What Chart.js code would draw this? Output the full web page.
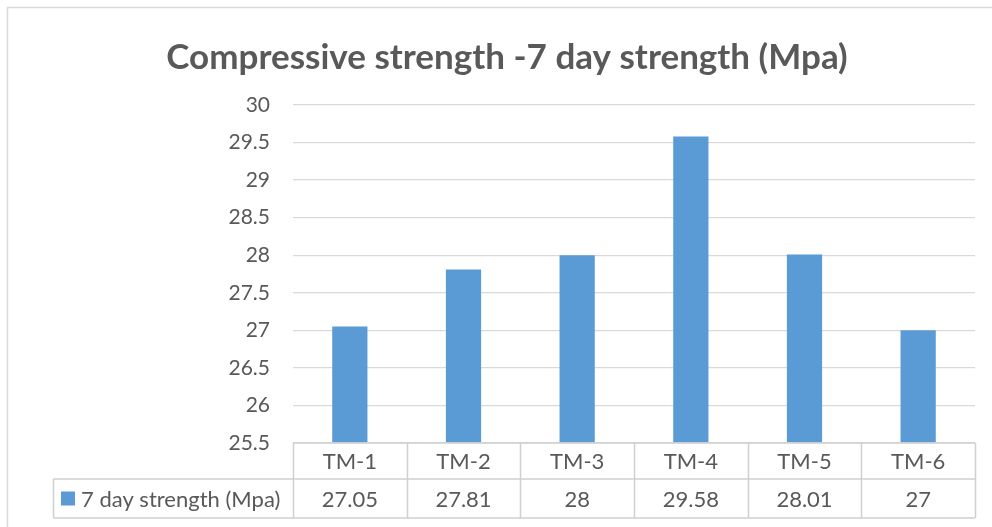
<!DOCTYPE html>
<html>
<head>
<meta charset="utf-8">
<script src="https://cdn.jsdelivr.net/npm/chart.js@4.4.1/dist/chart.umd.min.js"></script>
<style>
  html, body { margin: 0; padding: 0; background: #ffffff; }
  canvas { display: block; }
</style>
</head>
<body>
<canvas id="chart" width="992" height="527"></canvas>
<script>
// Chart content
const chartTitle = 'Compressive strength -7 day strength (Mpa)';
const categories = ['TM-1', 'TM-2', 'TM-3', 'TM-4', 'TM-5', 'TM-6'];
const seriesName = '7 day strength (Mpa)';
const strength7Day = [27.05, 27.81, 28, 29.58, 28.01, 27];
const axisMin = 25.5;
const axisMax = 30;
const axisStep = 0.5;

const TEXT = '#595959';
const GRID = '#d9d9d9';
const BAR = '#5b9bd5';
const FONT = 'Lato, "Liberation Sans", sans-serif';

// Frame, title and the data table under the plot
const tablePlugin = {
  id: 'dataTable',
  beforeDraw(chart) {
    const ctx = chart.ctx;
    ctx.save();
    ctx.fillStyle = '#ffffff';
    ctx.fillRect(0, 0, chart.width, chart.height);
    ctx.strokeStyle = GRID;
    ctx.lineWidth = 1.5;
    ctx.beginPath();
    ctx.moveTo(7.5, chart.height);
    ctx.lineTo(7.5, 7.5);
    ctx.lineTo(chart.width, 7.5);
    ctx.stroke();
    ctx.restore();
  },
  afterDraw(chart) {
    const ctx = chart.ctx;
    const area = chart.chartArea;
    const xs = chart.scales.x;
    const n = categories.length;
    const cellW = (area.right - area.left) / n;
    const top = area.bottom;
    const mid = top + 36;
    const bottom = mid + 39;
    const legendLeft = 53.5;

    ctx.save();
    // title
    ctx.fillStyle = TEXT;
    ctx.font = 'bold 35px ' + FONT;
    ctx.textAlign = 'center';
    ctx.textBaseline = 'middle';
    ctx.fillText(chartTitle, 507, 58);

    // table lines
    ctx.strokeStyle = '#d0d0d0';
    ctx.lineWidth = 1.5;
    ctx.beginPath();
    ctx.moveTo(area.left, top);
    ctx.lineTo(area.right, top);
    ctx.moveTo(legendLeft, mid);
    ctx.lineTo(area.right, mid);
    ctx.moveTo(legendLeft, bottom);
    ctx.lineTo(area.right, bottom);
    ctx.moveTo(legendLeft, mid);
    ctx.lineTo(legendLeft, bottom);
    for (let i = 0; i <= n; i++) {
      const x = Math.round(area.left + i * cellW) + 0.5;
      ctx.moveTo(x, top);
      ctx.lineTo(x, bottom);
    }
    ctx.stroke();

    // category and value cells
    ctx.fillStyle = TEXT;
    ctx.font = '22px ' + FONT;
    ctx.textAlign = 'center';
    ctx.textBaseline = 'middle';
    categories.forEach((c, i) => {
      const cx = xs.getPixelForTick(i);
      ctx.fillText(c, cx, (top + mid) / 2 + 1);
      ctx.fillText(String(strength7Day[i]), cx, (mid + bottom) / 2 + 1);
    });

    // legend cell
    const ky = (mid + bottom) / 2;
    ctx.fillStyle = BAR;
    ctx.fillRect(61, ky - 7, 14, 14);
    ctx.fillStyle = TEXT;
    ctx.textAlign = 'left';
    ctx.fillText(seriesName, 81, ky + 1);
    ctx.restore();
  }
};

new Chart(document.getElementById('chart'), {
  type: 'bar',
  data: {
    labels: categories,
    datasets: [{
      label: seriesName,
      data: strength7Day,
      backgroundColor: BAR,
      base: axisMin,
      categoryPercentage: 1,
      barPercentage: 0.31
    }]
  },
  options: {
    responsive: false,
    animation: false,
    devicePixelRatio: 1,
    layout: { padding: { top: 105, right: 17, bottom: 76, left: 0 } },
    plugins: {
      legend: { display: false },
      title: { display: false },
      tooltip: { enabled: false }
    },
    scales: {
      x: {
        grid: { display: false },
        border: { display: false },
        ticks: { display: false }
      },
      y: {
        min: axisMin,
        max: axisMax,
        afterFit(scale) { scale.width = 293; },
        grid: { color: GRID, lineWidth: 1.3, drawTicks: false },
        border: { display: false },
        ticks: {
          stepSize: axisStep,
          padding: 23,
          color: TEXT,
          font: { family: FONT, size: 21 },
          callback: (v) => String(Number(v.toFixed(1)))
        }
      }
    }
  },
  plugins: [tablePlugin]
});
</script>
</body>
</html>
